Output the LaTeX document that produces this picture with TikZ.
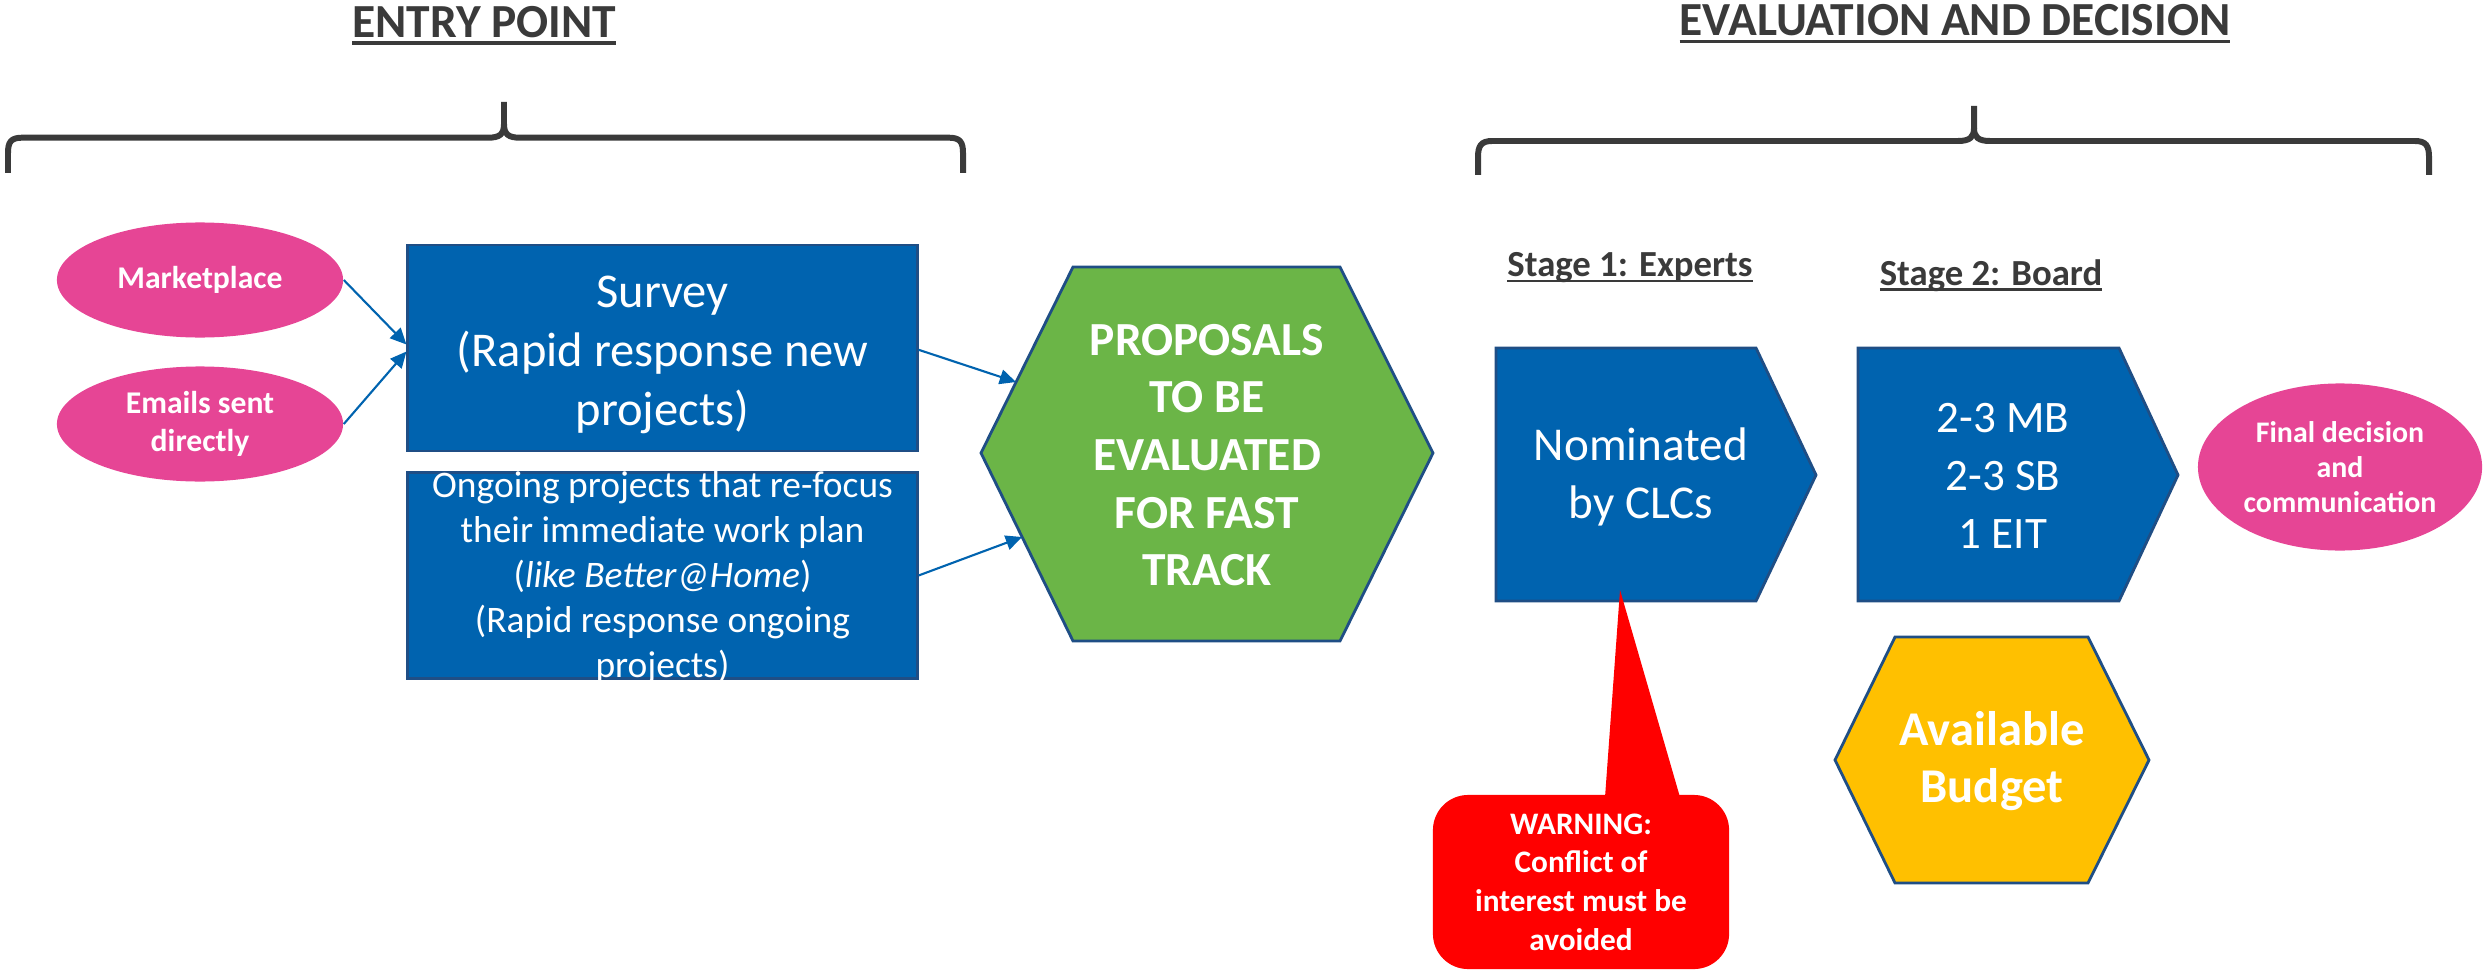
\documentclass[tikz,border=0pt]{standalone}
\usepackage{fontspec}
\setmainfont{Carlito}
\usetikzlibrary{arrows.meta,calc,shapes.geometric}
\definecolor{pinkc}{HTML}{E64595}
\definecolor{bluec}{HTML}{0063AF}
\definecolor{navyc}{HTML}{1F4E85}
\definecolor{greenc}{HTML}{6BB547}
\definecolor{goldc}{HTML}{FFC000}
\definecolor{darkc}{HTML}{3A3A3A}
\definecolor{redc}{HTML}{FF0000}
\newcommand\myul[1]{\setbox0\hbox{#1}\rlap{\rule[-0.1525em]{\wd0}{0.065em}}\box0}
\begin{document}
\begin{tikzpicture}[x=0.01cm,y=-0.01cm,
  title/.style={text=darkc, inner sep=0, anchor=base, font=\fontsize{13.5}{16}\selectfont\bfseries},
  stagelbl/.style={text=darkc, inner sep=0, anchor=base, font=\fontsize{10.45}{12.5}\selectfont\bfseries},
  brace/.style={draw=darkc, line width=1.7pt},
  pinkell/.style={ellipse, fill=pinkc, text=white, inner sep=0, align=center},
  bluebox/.style={rectangle, fill=bluec, draw=navyc, line width=0.8pt, text=white, inner sep=0, align=center},
  shapeline/.style={draw=navyc, line width=0.8pt},
  lbl/.style={text=white, inner sep=0, align=center},
  conn/.style={draw=bluec, line width=0.6pt, -{Triangle[length=4.6pt,width=4.2pt]}}]
\useasboundingbox (0,0) rectangle (2483,970);

% braces
\draw[brace] (8,173) -- (8,153) .. controls (8,142) and (11,137.7) .. (22,137.7) -- (488,137.7) .. controls (500,137.7) and (504,134) .. (504,124) -- (504,102);
\draw[brace] (504,124) .. controls (504,134) and (508,137.7) .. (520,137.7) -- (949,137.7) .. controls (960,137.7) and (963,142) .. (963,153) -- (963,173);
\draw[brace] (1478,175) -- (1478,157) .. controls (1478,146) and (1481,141) .. (1492,141) -- (1958,141) .. controls (1970,141) and (1974,137) .. (1974,128) -- (1974,106);
\draw[brace] (1974,128) .. controls (1974,137) and (1978,141) .. (1990,141) -- (2415,141) .. controls (2426,141) and (2429,146) .. (2429,157) -- (2429,175);

% titles
\node[title] (t1) at (484.4,37.3) {\myul{ENTRY POINT}};
\node[title] (t2) at (1955,36) {\myul{EVALUATION AND DECISION}};

% entry sources
\node[pinkell, minimum width=2.86cm, minimum height=1.15cm, font=\fontsize{9}{10.8}\selectfont\bfseries] (mkt) at (200,280) {Marketplace};
\node[pinkell, minimum width=2.86cm, minimum height=1.15cm, font=\fontsize{9}{10.8}\selectfont\bfseries] (eml) at (200,424) {Emails sent\\directly};

\node[bluebox, minimum width=5.09cm, minimum height=2.06cm] (survey) at (662.5,348) {};
\node[lbl, font=\fontsize{13.8}{16.8}\selectfont] (survtxt) at (662.5,355) {Survey\\(Rapid response new\\projects)};
\node[bluebox, minimum width=5.09cm, minimum height=2.06cm] (ongo) at (662.5,575.5) {};
\node[lbl, font=\fontsize{10.65}{12.8}\selectfont] (ongotxt) at (662.5,578) {Ongoing projects that re-focus\\their immediate work plan\\(\textit{like Better@Home})\\(Rapid response ongoing\\projects)};

% green hexagon
\draw[shapeline, fill=greenc] (981,453) -- (1073,267) -- (1340,267) -- (1433,453) -- (1340,641) -- (1073,641) -- cycle;
\node[lbl, font=\fontsize{13.5}{16.4}\selectfont\bfseries] (prop) at (1207,455) {PROPOSALS\\TO BE\\EVALUATED\\FOR FAST\\TRACK};
\coordinate (propin1) at (1016,382);
\coordinate (propin2) at (1022,537);

% connectors
\draw[conn] (mkt.east) -- ([yshift=1pt]survey.west);
\draw[conn] (eml.east) -- ([yshift=-1pt]survey.west);
\draw[conn] ([yshift=-0.5pt]survey.east) -- (propin1);
\draw[conn] (ongo.east) -- (propin2);

% stages
\node[stagelbl] (st1) at (1630,276.7) {\myul{Stage 1: Experts}};
\node[stagelbl] (st2) at (1991,285) {\myul{Stage 2: Board}};

\draw[shapeline, fill=bluec] (1496,348) -- (1756,348) -- (1816,475) -- (1756,601) -- (1496,601) -- cycle;
\node[lbl, font=\fontsize{13.4}{16.5}\selectfont] (s1) at (1641,477) {Nominated\\by CLCs};
\draw[shapeline, fill=bluec] (1858,348) -- (2119,348) -- (2178,475) -- (2119,601) -- (1858,601) -- cycle;
\node[lbl, font=\fontsize{12.8}{16.4}\selectfont] (s2) at (2003,476) {2-3 MB\\2-3 SB\\1 EIT};

\node[pinkell, minimum width=2.84cm, minimum height=1.67cm, font=\fontsize{8.5}{10}\selectfont\bfseries] (fin) at (2340,467) {Final decision\\and\\communication};

% budget hexagon
\draw[shapeline, fill=goldc] (1835,760) -- (1895,637) -- (2088,637) -- (2149,760) -- (2088,883) -- (1895,883) -- cycle;
\node[lbl, font=\fontsize{13.8}{16.2}\selectfont\bfseries] (bud) at (1992,761) {Available\\Budget};

% warning callout
\node[fill=redc, rounded corners=10pt, minimum width=2.96cm, minimum height=1.74cm, text=white, inner sep=0, align=center, font=\fontsize{8.9}{11}\selectfont\bfseries] (warn) at (1581,882) {WARNING:\\Conflict of\\interest must be\\avoided};
\coordinate (tip) at (1620,590);
\fill[redc] ($(warn.north)+(24,3)$) -- (tip) -- ($(warn.north)+(99,3)$) -- cycle;
\end{tikzpicture}
\end{document}
